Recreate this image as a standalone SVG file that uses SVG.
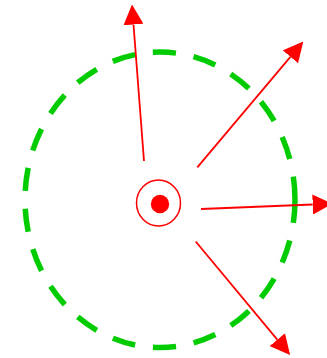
<svg xmlns="http://www.w3.org/2000/svg" width="327" height="358" viewBox="0 0 327 358">
<style>
.ring{fill:none;stroke:#00cc00;stroke-width:5.5;stroke-dasharray:23.3 17.92}
.arrow{stroke:#ff0000;stroke-width:1.8;fill:none}
</style>
<defs>
<marker id="head" viewBox="0 0 20 20" markerWidth="20" markerHeight="20" markerUnits="userSpaceOnUse" refX="0" refY="10" orient="auto">
<path d="M0,0 L20,10 L0,20 z" fill="#ff0000"/>
</marker>
</defs>
<rect width="327" height="358" fill="#ffffff"/>
<g id="boundary">
<ellipse class="ring" cx="160" cy="199.8" rx="135" ry="147.7" pathLength="889"/>
</g>
<g id="center">
<ellipse cx="158.5" cy="203" rx="22" ry="23" fill="none" stroke="#ff0000" stroke-width="1.5"/>
<circle cx="160" cy="204" r="9.2" fill="#ff0000"/>
</g>
<g id="connectors">
<line class="arrow" x1="144" y1="161" x2="133.5" y2="24.5" marker-end="url(#head)"/>
<line class="arrow" x1="197.3" y1="167.3" x2="290.4" y2="56.8" marker-end="url(#head)"/>
<line class="arrow" x1="201" y1="209" x2="312.7" y2="204.5" marker-end="url(#head)"/>
<line class="arrow" x1="195.7" y1="241.5" x2="277.3" y2="339.6" marker-end="url(#head)"/>
</g>
</svg>
